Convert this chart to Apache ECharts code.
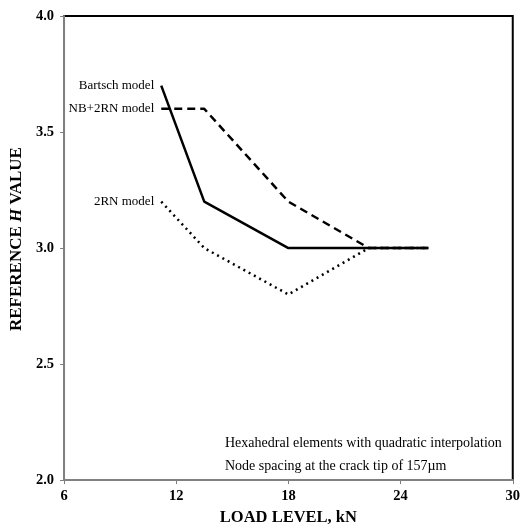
<!DOCTYPE html>
<html>
<head>
<meta charset="utf-8">
<script src="https://cdn.jsdelivr.net/npm/echarts@6/dist/echarts.min.js"></script>
<style>html,body{margin:0;padding:0;background:#fff}#c{width:523px;height:531px}</style>
</head>
<body>
<div id="c"></div>
<script>
var loadLevels = [11.2, 13.5, 18, 22.3, 25.5];
var bartsch = [3.7, 3.2, 3.0, 3.0, 3.0];
var nb2rn = [3.6, 3.6, 3.2, 3.0, 3.0];
var rn2 = [3.2, 3.0, 2.8, 3.0, 3.0];
var seriesNames = ['Bartsch model', 'NB+2RN model', '2RN model'];
var xTicks = [6, 12, 18, 24, 30];
var yTicks = [2.0, 2.5, 3.0, 3.5, 4.0];
var notes = ['Hexahedral elements with quadratic interpolation', 'Node spacing at the crack tip of 157\u00b5m'];

var FONT = '"Liberation Serif", "Times New Roman", serif';

function build(vals, name) {
  return loadLevels.map(function (x, i) {
    var d = { value: [x, vals[i]] };
    if (i === 0) {
      d.label = { show: true, position: 'left', distance: 7, formatter: name,
        color: '#000', fontFamily: FONT, fontSize: 13 };
    }
    return d;
  });
}

var chart = echarts.init(document.getElementById('c'));
chart.setOption({
  animation: false,
  backgroundColor: '#fff',
  grid: { left: 63, right: 10, top: 16, bottom: 49, show: true, borderColor: '#000', borderWidth: 2 },
  xAxis: {
    type: 'value', min: xTicks[0], max: xTicks[xTicks.length - 1], interval: 6,
    name: 'LOAD LEVEL, kN', nameLocation: 'middle', nameGap: 27,
    nameTextStyle: { fontFamily: FONT, fontWeight: 'bold', fontSize: 16.5, color: '#000' },
    axisLine: { show: true, lineStyle: { color: '#808080', width: 2 } },
    axisTick: { show: true, length: 4, lineStyle: { color: '#808080' } },
    axisLabel: { fontFamily: FONT, fontWeight: 'bold', fontSize: 14.5, color: '#000', margin: 9 },
    splitLine: { show: false }
  },
  yAxis: {
    type: 'value', min: yTicks[0], max: yTicks[yTicks.length - 1], interval: 0.5,
    name: '{a|REFERENCE }{b|H}{a| VALUE}', nameLocation: 'middle', nameGap: 36, nameRotate: 90,
    nameTextStyle: {
      padding: [0, 0, 0, 18],
      rich: {
        a: { fontFamily: FONT, fontWeight: 'bold', fontSize: 17, color: '#000' },
        b: { fontFamily: FONT, fontWeight: 'bold', fontStyle: 'italic', fontSize: 17, color: '#000' }
      }
    },
    axisLine: { show: true, lineStyle: { color: '#808080', width: 2 } },
    axisTick: { show: true, length: 4, lineStyle: { color: '#808080' } },
    axisLabel: { fontFamily: FONT, fontWeight: 'bold', fontSize: 14.5, color: '#000', margin: 10,
      formatter: function (v) { return v.toFixed(1); } },
    splitLine: { show: false }
  },
  series: [
    { name: seriesNames[0], type: 'line', data: build(bartsch, seriesNames[0]), symbol: 'circle', symbolSize: 0,
      showSymbol: true, lineStyle: { color: '#000', width: 2.5, type: 'solid' }, itemStyle: { color: '#000' } },
    { name: seriesNames[1], type: 'line', data: build(nb2rn, seriesNames[1]), symbol: 'circle', symbolSize: 0,
      showSymbol: true, lineStyle: { color: '#000', width: 2.5, type: [8, 5] }, itemStyle: { color: '#000' } },
    { name: seriesNames[2], type: 'line', data: build(rn2, seriesNames[2]), symbol: 'circle', symbolSize: 0,
      showSymbol: true, lineStyle: { color: '#000', width: 2.5, type: [2, 4] }, itemStyle: { color: '#000' } }
  ],
  graphic: [
    { type: 'text', left: 225, top: 436, style: { text: notes[0], fontFamily: FONT, fontSize: 14, fill: '#000' } },
    { type: 'text', left: 225, top: 459, style: { text: notes[1], fontFamily: FONT, fontSize: 14, fill: '#000' } }
  ]
});
</script>
</body>
</html>
